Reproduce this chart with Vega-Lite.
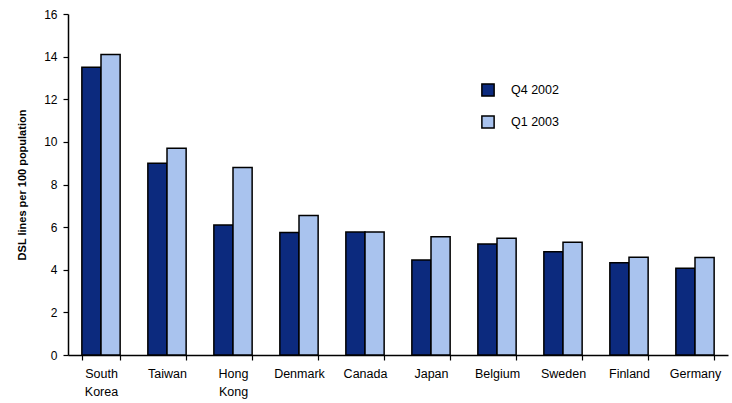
{
  "$schema": "https://vega.github.io/schema/vega-lite/v6.json",
  "width": 660,
  "height": 341,
  "autosize": "none",
  "padding": {"left": 68, "top": 14, "right": 4, "bottom": 48},
  "background": "white",
  "config": {
    "view": {"stroke": null},
    "font": "Liberation Sans"
  },
  "data": {
    "values": [
      {"country": "South Korea", "series": "Q4 2002", "value": 13.5},
      {"country": "South Korea", "series": "Q1 2003", "value": 14.1},
      {"country": "Taiwan", "series": "Q4 2002", "value": 9.0},
      {"country": "Taiwan", "series": "Q1 2003", "value": 9.7},
      {"country": "Hong Kong", "series": "Q4 2002", "value": 6.1},
      {"country": "Hong Kong", "series": "Q1 2003", "value": 8.8},
      {"country": "Denmark", "series": "Q4 2002", "value": 5.75},
      {"country": "Denmark", "series": "Q1 2003", "value": 6.55},
      {"country": "Canada", "series": "Q4 2002", "value": 5.77},
      {"country": "Canada", "series": "Q1 2003", "value": 5.77},
      {"country": "Japan", "series": "Q4 2002", "value": 4.46},
      {"country": "Japan", "series": "Q1 2003", "value": 5.55},
      {"country": "Belgium", "series": "Q4 2002", "value": 5.21},
      {"country": "Belgium", "series": "Q1 2003", "value": 5.48},
      {"country": "Sweden", "series": "Q4 2002", "value": 4.85},
      {"country": "Sweden", "series": "Q1 2003", "value": 5.29},
      {"country": "Finland", "series": "Q4 2002", "value": 4.33},
      {"country": "Finland", "series": "Q1 2003", "value": 4.59},
      {"country": "Germany", "series": "Q4 2002", "value": 4.07},
      {"country": "Germany", "series": "Q1 2003", "value": 4.57}
    ]
  },
  "mark": {"type": "bar", "stroke": "black", "strokeWidth": 1.5},
  "encoding": {
    "x": {
      "field": "country",
      "type": "nominal",
      "sort": null,
      "title": null,
      "scale": {"paddingInner": 0.42, "paddingOuter": 0.21},
      "axis": {
        "labelAngle": 0,
        "labelExpr": "split(datum.label, ' ')",
        "labelFontSize": 12.5,
        "labelColor": "black",
        "labelPadding": 7,
        "labelLineHeight": 18,
        "tickBand": "extent",
        "tickSize": 5,
        "tickColor": "black",
        "domainColor": "black",
        "domainWidth": 1.5,
        "tickWidth": 1.2
      }
    },
    "xOffset": {"field": "series", "type": "nominal", "sort": ["Q4 2002", "Q1 2003"]},
    "y": {
      "field": "value",
      "type": "quantitative",
      "scale": {"domain": [0, 16]},
      "axis": {
        "values": [0, 2, 4, 6, 8, 10, 12, 14, 16],
        "grid": false,
        "title": "DSL lines per 100 population",
        "titleFontSize": 11,
        "titleFontWeight": "bold",
        "titleColor": "black",
        "titlePadding": 16,
        "labelFontSize": 12,
        "labelColor": "black",
        "labelPadding": 6,
        "tickSize": 5,
        "tickColor": "black",
        "domainColor": "black",
        "domainWidth": 1.5,
        "tickWidth": 1.2
      }
    },
    "color": {
      "field": "series",
      "type": "nominal",
      "sort": ["Q4 2002", "Q1 2003"],
      "scale": {"domain": ["Q4 2002", "Q1 2003"], "range": ["#0c2a7e", "#a9c3ee"]},
      "legend": {
        "title": null,
        "orient": "none",
        "legendX": 413,
        "legendY": 69,
        "symbolType": "square",
        "symbolSize": 150,
        "symbolStrokeColor": "black",
        "symbolStrokeWidth": 1.5,
        "labelFontSize": 12.5,
        "labelColor": "black",
        "labelOffset": 16,
        "rowPadding": 12
      }
    }
  }
}
